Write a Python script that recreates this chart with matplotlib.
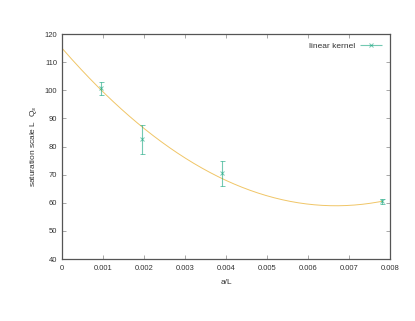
import numpy as np
import matplotlib
matplotlib.use("Agg")
import matplotlib.pyplot as plt
from matplotlib.legend_handler import HandlerErrorbar

# measured saturation scale vs lattice spacing
a_over_L = [0.00095, 0.00195, 0.0039, 0.0078]
sat_scale = [100.7, 82.5, 70.5, 60.5]
sat_err = [2.3, 5.0, 4.5, 1.0]

x_ticks = [0, 0.001, 0.002, 0.003, 0.004, 0.005, 0.006, 0.007, 0.008]
x_tick_labels = ["0", "0.001", "0.002", "0.003", "0.004", "0.005", "0.006", "0.007", "0.008"]
y_ticks = [40, 50, 60, 70, 80, 90, 100, 110, 120]

plt.rcParams["font.family"] = ["Liberation Sans", "DejaVu Sans"]

fig = plt.figure(figsize=(4.15, 3.21), dpi=100)
ax = fig.add_axes([0.1494, 0.1931, 0.7904, 0.7009])

# quadratic fit through the points (weighted by errors)
coeffs = np.polyfit(a_over_L, sat_scale, 2, w=1 / np.array(sat_err))
xs = np.linspace(0, a_over_L[-1], 200)
ax.plot(xs, np.polyval(coeffs, xs), color="#e69f00", lw=0.7, alpha=0.6, zorder=2)

err_style = dict(fmt="x", color="#009e73", ms=2.5, mew=0.7, elinewidth=0.8,
                 capsize=1.8, capthick=0.8, alpha=0.55)
ax.errorbar(a_over_L, sat_scale, yerr=sat_err, zorder=3, **err_style)
# gnuplot-style legend sample: horizontal bar with caps
proxy = ax.errorbar([], [], xerr=[], label="linear kernel", **err_style)

ax.set_xlim(0, 0.008)
ax.set_ylim(40, 120)
ax.set_xticks(x_ticks)
ax.set_xticklabels(x_tick_labels)
ax.set_yticks(y_ticks)
ax.tick_params(direction="in", length=3, width=0.6, colors="#999999",
               labelcolor="#333333", labelsize=5.5, top=True, right=True)
ax.tick_params(axis="x", pad=4)
ax.tick_params(axis="y", pad=3.5)
for sp in ax.spines.values():
    sp.set_color("#555555")
    sp.set_linewidth(0.9)

ax.set_xlabel("a/L", fontsize=6, color="#333333", labelpad=5)
ax.set_ylabel("saturation scale L  Q$_s$", fontsize=6, color="#333333", labelpad=4)

leg = ax.legend(handles=[proxy], loc="center right", frameon=False, fontsize=6,
                handlelength=2.6, handletextpad=0.6, markerfirst=False,
                borderpad=0, borderaxespad=0, bbox_to_anchor=(0.976, 0.947),
                handler_map={type(proxy): HandlerErrorbar(xerr_size=1.3)})
for t in leg.get_texts():
    t.set_color("#333333")

fig.savefig("out.png", dpi=100)
